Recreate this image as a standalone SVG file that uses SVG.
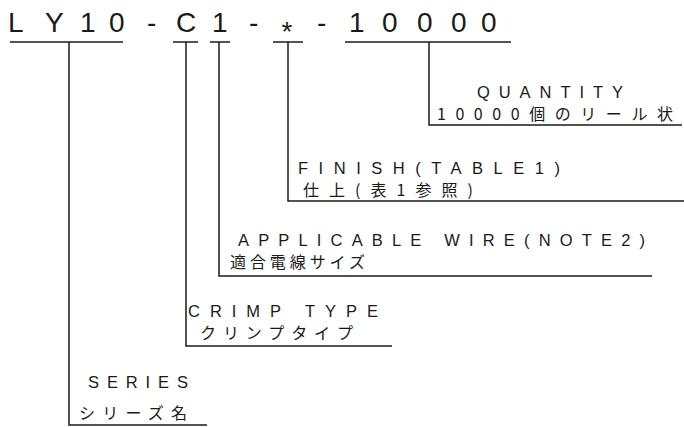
<svg xmlns="http://www.w3.org/2000/svg" width="684" height="427" viewBox="0 0 684 427">
  <style>
    .t { font-family: "Liberation Sans", "Noto Sans CJK JP", sans-serif; fill: #1a1a1a; }
    .title { font-size: 28px; }
    .en { font-size: 16.5px; }
    .jp { font-size: 16px; font-family: "Noto Sans CJK JP", "Liberation Sans", sans-serif; }
    .ln { stroke: #1a1a1a; stroke-width: 1.5; fill: none; }
  </style>
  <rect width="684" height="427" fill="#ffffff"/>

  <g id="part-number">
    <text class="t title" x="8 45 80 109 147 176 212 249 281.5 317 349 382 417 451 481" y="32 32 32 32 32 32 32 32 41 32 32 32 32 32 32">LY10-C1-*-10000</text>
  </g>

  <g id="connectors">
    <line class="ln" x1="10" y1="42" x2="123" y2="42"/>
    <line class="ln" x1="173" y1="42" x2="198" y2="42"/>
    <line class="ln" x1="210" y1="42" x2="230" y2="42"/>
    <line class="ln" x1="273" y1="42" x2="303" y2="42"/>
    <line class="ln" x1="345" y1="42" x2="511" y2="42"/>
    <polyline class="ln" points="429,42 429,125 682,125"/>
    <polyline class="ln" points="288,42 288,201 684,201"/>
    <polyline class="ln" points="219,42 219,276 652,276"/>
    <polyline class="ln" points="186,42 186,346 392,346"/>
    <polyline class="ln" points="69,42 69,425 207,425"/>
  </g>

  <g id="quantity">
    <text class="t en" x="477" y="98" textLength="146" lengthAdjust="spacing">QUANTITY</text>
    <text class="t jp" x="437" y="120" textLength="236" lengthAdjust="spacing">10000個のリール状</text>
  </g>

  <g id="finish">
    <text class="t en" x="298" y="174" textLength="262" lengthAdjust="spacing">FINISH(TABLE1)</text>
    <text class="t jp" x="303" y="196" textLength="170" lengthAdjust="spacing">仕上(表1参照)</text>
  </g>

  <g id="applicable-wire">
    <text class="t en" x="238" y="246" textLength="407" lengthAdjust="spacing">APPLICABLE WIRE(NOTE2)</text>
    <text class="t jp" x="230" y="268" textLength="135" lengthAdjust="spacing">適合電線サイズ</text>
  </g>

  <g id="crimp-type">
    <text class="t en" x="188" y="317" textLength="190" lengthAdjust="spacing">CRIMP TYPE</text>
    <text class="t jp" x="200" y="339" textLength="153" lengthAdjust="spacing">クリンプタイプ</text>
  </g>

  <g id="series">
    <text class="t en" x="88" y="388" textLength="100" lengthAdjust="spacing">SERIES</text>
    <text class="t jp" x="79" y="419" textLength="108" lengthAdjust="spacing">シリーズ名</text>
  </g>
</svg>
